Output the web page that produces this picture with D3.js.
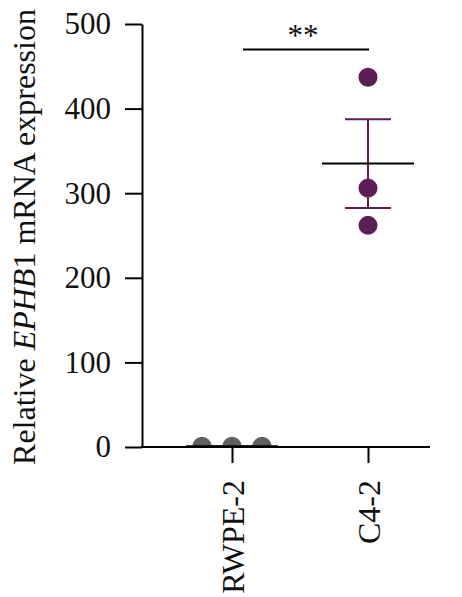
<!DOCTYPE html>
<html>
<head>
<meta charset="utf-8">
<script src="https://cdn.jsdelivr.net/npm/d3@7"></script>
<style>
  body { margin: 0; background: #fff; }
  svg { display: block; font-family: "Liberation Serif", "DejaVu Serif", serif; }
</style>
</head>
<body>
<div class="chart"></div>
<script>
// data
var groups = ["RWPE-2", "C4-2"];
var rwpeValues = [1, 1, 1];
var c42Values = [437, 306, 262];
var groupColors = ["#606060", "#5b1f55"];
var yTicks = [0, 100, 200, 300, 400, 500];
var sigLabel = "**";

var width = 462, height = 597;
var margin = {top: 24, left: 142, right: 32, bottom: 150};

var svg = d3.select(".chart").append("svg")
    .attr("width", width)
    .attr("height", height);

const yScale = d3.scaleLinear()
    .domain([0, 500])
    .range([height - margin.bottom, margin.top]);

const xScale = d3.scalePoint()
    .domain(groups)
    .range([232, 368]);

var y0 = yScale(0);

// clip so points sit on top of the axis (half hidden)
svg.append("clipPath").attr("id", "plotclip")
  .append("rect")
    .attr("x", margin.left).attr("y", 0)
    .attr("width", width - margin.left).attr("height", y0);

var series = [
  {key: groups[0], values: rwpeValues, color: groupColors[0]},
  {key: groups[1], values: c42Values, color: groupColors[1]}
];

series.forEach(function(s) {
  s.mean = d3.mean(s.values);
  s.sem = d3.deviation(s.values) / Math.sqrt(s.values.length);
});

var plot = svg.append("g").attr("clip-path", "url(#plotclip)");

// points (RWPE-2 points are spread sideways since they overlap)
series.forEach(function(s) {
  var offs = s.key == "RWPE-2" ? [-30, 0, 30] : [0, 0, 0];
  plot.selectAll(null)
    .data(s.values)
    .enter().append("circle")
      .attr("cx", (d, i) => xScale(s.key) + offs[i])
      .attr("cy", d => yScale(d))
      .attr("r", 9.5)
      .attr("fill", s.color);
});

// error bars + mean
series.forEach(function(s) {
  var cx = xScale(s.key);
  var g = svg.append("g");
  g.append("line")
    .attr("x1", cx).attr("x2", cx)
    .attr("y1", yScale(s.mean + s.sem)).attr("y2", yScale(s.mean - s.sem))
    .attr("stroke", s.color).attr("stroke-width", 2);
  [s.mean + s.sem, s.mean - s.sem].forEach(function(v) {
    g.append("line")
      .attr("x1", cx - 23).attr("x2", cx + 23)
      .attr("y1", yScale(v)).attr("y2", yScale(v))
      .attr("stroke", s.color).attr("stroke-width", 2);
  });
  g.append("line")
    .attr("x1", cx - 46).attr("x2", cx + 46)
    .attr("y1", yScale(s.mean)).attr("y2", yScale(s.mean))
    .attr("stroke", "#000").attr("stroke-width", 2);
});

// y axis
const yAxis = d3.axisLeft(yScale)
    .tickValues(yTicks)
    .tickSize(17)
    .tickPadding(14)
    .tickSizeOuter(0);

svg.append("g")
    .attr("class", "axis y-axis")
    .attr("transform", `translate(${margin.left},0)`)
    .call(yAxis)
    .call(g => g.selectAll("text").attr("font-size", 31).attr("font-family", "Liberation Serif").attr("fill", "#111"))
    .call(g => g.selectAll("line, path").attr("stroke", "#000").attr("stroke-width", 2));

// x axis
const xAxis = d3.axisBottom(xScale)
    .tickSize(16)
    .tickSizeOuter(0);

svg.append("g")
    .attr("class", "axis x-axis")
    .attr("transform", `translate(0,${y0})`)
    .call(xAxis)
    .call(g => g.select(".domain").remove())
    .call(g => g.selectAll("line").attr("stroke", "#000").attr("stroke-width", 2))
    .call(g => g.selectAll("text")
        .attr("font-size", 32)
        .attr("font-family", "Liberation Serif")
        .attr("fill", "#111")
        .attr("text-anchor", "end")
        .attr("transform", "rotate(-90)")
        .attr("x", -33)
        .attr("y", 0)
        .attr("dy", "0.35em"));

svg.append("line")
    .attr("x1", margin.left - 1).attr("x2", width - margin.right)
    .attr("y1", y0).attr("y2", y0)
    .attr("stroke", "#000").attr("stroke-width", 2);

// significance bar
var sigY = yScale(470);
svg.append("line")
    .attr("x1", xScale(groups[0]) + 11).attr("x2", xScale(groups[1]) + 1)
    .attr("y1", sigY).attr("y2", sigY)
    .attr("stroke", "#000").attr("stroke-width", 2);
svg.append("text")
    .attr("x", 303).attr("y", sigY - 3)
    .attr("text-anchor", "middle")
    .attr("font-size", 31)
    .attr("fill", "#111")
    .text(sigLabel);

// y label
var ylab = svg.append("text")
    .attr("transform", "translate(35,237) rotate(-90)")
    .attr("text-anchor", "middle")
    .attr("font-size", 32)
    .attr("fill", "#111");
ylab.append("tspan").text("Relative ");
ylab.append("tspan").attr("font-style", "italic").text("EPHB");
ylab.append("tspan").text("1 mRNA expression");
</script>
</body>
</html>
